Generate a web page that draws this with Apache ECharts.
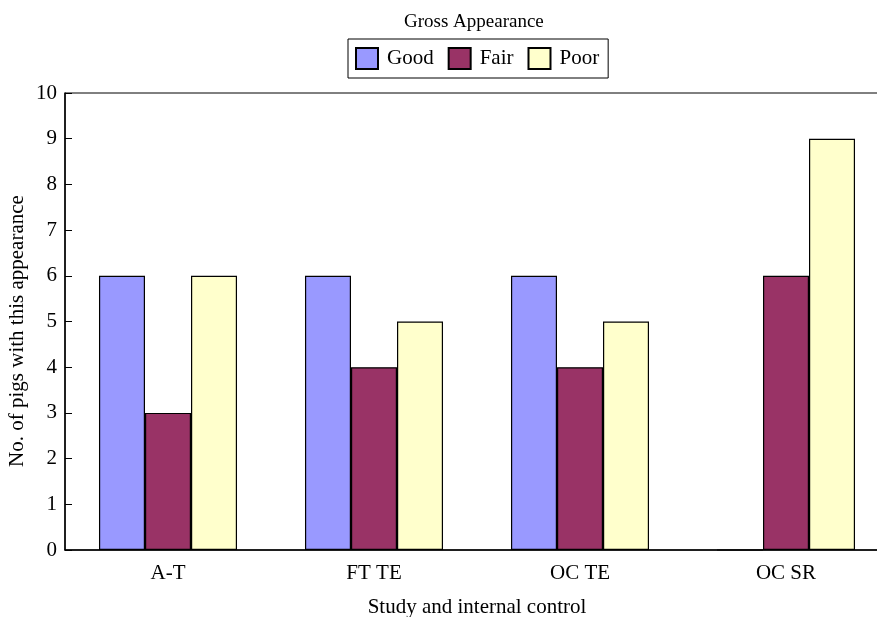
<!DOCTYPE html>
<html>
<head>
<meta charset="utf-8">
<script src="https://cdn.jsdelivr.net/npm/echarts@6/dist/echarts.min.js"></script>
<style>html,body{margin:0;padding:0;background:#fff;overflow:hidden;width:877px;height:617px}#c{width:889px;height:617px}</style>
</head>
<body>
<div id="c"></div>
<script>
const categories = ['A-T', 'FT TE', 'OC TE', 'OC SR'];
const seriesNames = ['Good', 'Fair', 'Poor'];
const good = [6, 6, 6, 0];
const fair = [3, 4, 4, 6];
const poor = [6, 5, 5, 9];
const yTicks = [0, 10, 1];

const colors = ['#9999ff', '#993366', '#ffffcc'];
const values = [good, fair, poor];
const font = 'Liberation Serif';
const chart = echarts.init(document.getElementById('c'), null, {renderer: 'canvas'});
chart.setOption({
  animation: false,
  textStyle: {fontFamily: font, color: '#000'},
  title: {
    text: 'Gross Appearance', left: 399, top: 8,
    textStyle: {fontFamily: font, fontSize: 19, fontWeight: 'normal', color: '#000'}
  },
  legend: {
    data: seriesNames, left: 348, top: 39,
    itemWidth: 22, itemHeight: 21, itemGap: 14,
    borderColor: '#000', borderWidth: 1, padding: [8, 9, 8, 7],
    icon: 'rect',
    textStyle: {fontFamily: font, fontSize: 21, color: '#000', padding: [2, 0, 0, 4]}
  },
  grid: {left: 65, right: 0, top: 93, bottom: 67, show: true, borderColor: '#000', borderWidth: 1, outerBoundsMode: 'none', containLabel: false},
  xAxis: {
    type: 'category', data: categories,
    name: 'Study and internal control', nameLocation: 'middle', nameGap: 47, nameMoveOverlap: false,
    nameTextStyle: {fontFamily: font, fontSize: 21, color: '#000'},
    axisLine: {lineStyle: {color: '#000', width: 1.5}},
    axisTick: {inside: true, length: 7, lineStyle: {color: '#000'}},
    axisLabel: {fontFamily: font, fontSize: 21, color: '#000', margin: 13}
  },
  yAxis: {
    type: 'value', min: yTicks[0], max: yTicks[1], interval: yTicks[2],
    name: 'No. of pigs with this appearance', nameLocation: 'middle', nameGap: 37, nameMoveOverlap: false,
    nameTextStyle: {fontFamily: font, fontSize: 21, color: '#000', padding: [0, 19, 0, 0]},
    axisLine: {show: true, lineStyle: {color: '#000', width: 1.5}},
    axisTick: {show: true, inside: true, length: 7, lineStyle: {color: '#000'}},
    splitLine: {show: false},
    axisLabel: {fontFamily: font, fontSize: 21, color: '#000', margin: 8}
  },
  series: seriesNames.map((n, i) => ({
    name: n, type: 'bar', data: values[i],
    barGap: '0%', barCategoryGap: '33%',
    itemStyle: {color: colors[i], borderColor: '#000', borderWidth: 1.2}
  }))
});
</script>
</body>
</html>
